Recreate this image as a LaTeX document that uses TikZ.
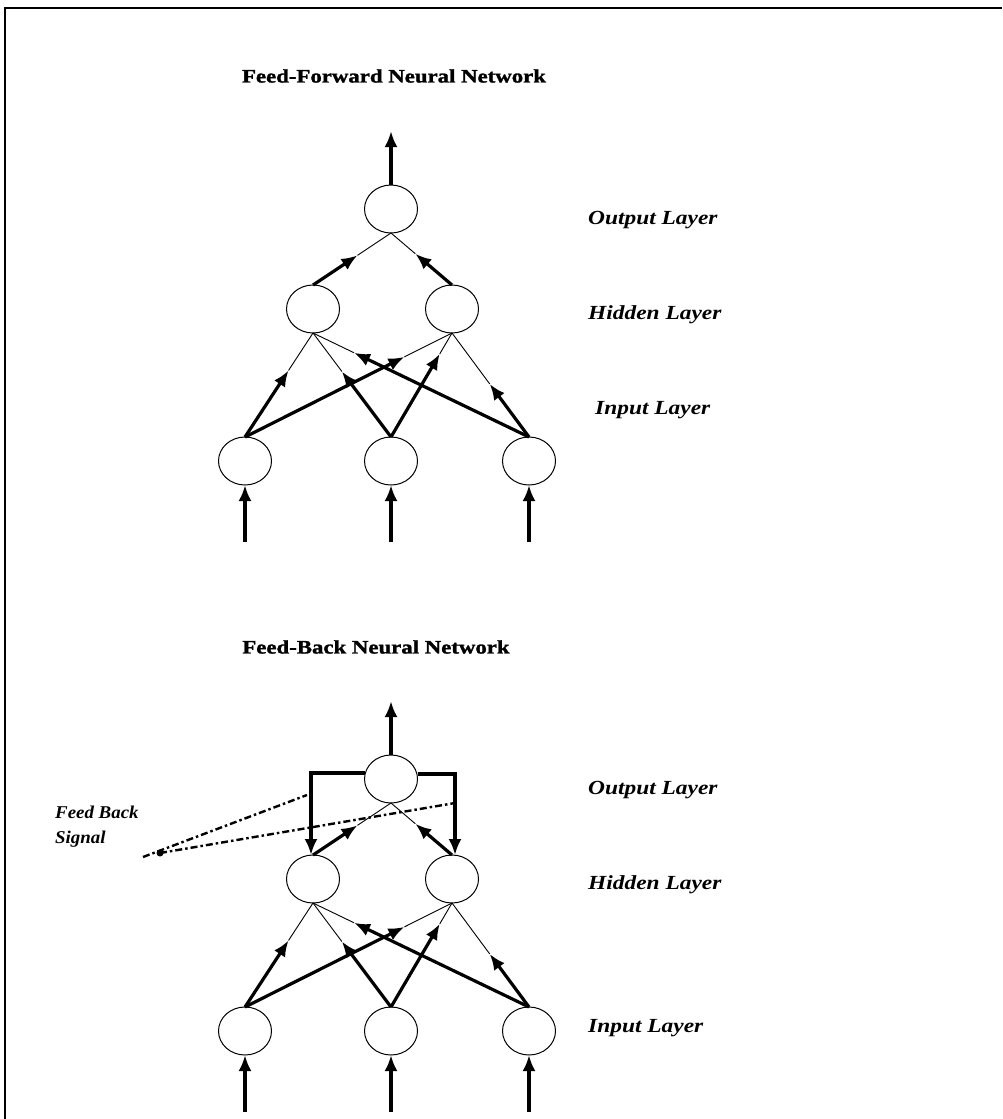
\documentclass[tikz,border=0pt]{standalone}
\usepackage{fontspec}
\setmainfont{Liberation Serif}
\newfontfamily\headfont[FakeStretch=1.2,FakeBold=1.5]{Liberation Serif}
\newfontfamily\layerfont[FakeStretch=1.17]{Liberation Serif}
\newfontfamily\notefont[FakeStretch=1.05]{Liberation Serif}
\usetikzlibrary{arrows.meta,shapes.geometric}

\tikzset{
  neuron/.style={ellipse, draw, line width=1pt, minimum width=53pt,
    minimum height=48pt, inner sep=0pt, outer sep=0pt},
  wire/.style={line width=0.9pt},
  strong/.style={line width=3.2pt},
  heavy/.style={line width=4pt},
  headarrow/.style={-{Latex[length=16pt,width=13pt]}},
  signal/.style={line width=2.4pt, dash pattern=on 7pt off 3pt on 2.5pt off 3pt},
  heading/.style={font=\headfont\bfseries\fontsize{19}{22}\selectfont, inner sep=0pt},
  layer/.style={font=\layerfont\bfseries\itshape\fontsize{20}{24}\selectfont,
    anchor=west, inner sep=0pt},
  note/.style={font=\notefont\bfseries\itshape\fontsize{18}{25}\selectfont,
    align=left, anchor=north west, inner sep=0pt},
}

% connector: heavy part with arrowhead from #1 up to fraction #3, thin remainder to #2
\newcommand{\feed}[3]{%
  \path (#1) -- (#2) coordinate[pos=#3] (mid);
  \draw[strong, headarrow] (#1) -- (mid);
  \draw[wire] (mid) -- (#2);}

% three-layer network; #1 name prefix, #2 vertical offset
\newcommand{\layers}[2]{%
  \node[neuron] (#1o)  at (391,209+#2) {};
  \node[neuron] (#1h1) at (313,309+#2) {};
  \node[neuron] (#1h2) at (452,309+#2) {};
  \node[neuron] (#1i1) at (245,461+#2) {};
  \node[neuron] (#1i2) at (391,461+#2) {};
  \node[neuron] (#1i3) at (529,461+#2) {};
  \coordinate (#1out) at (391,131+#2);
  \coordinate (#1s1) at (245,542+#2);
  \coordinate (#1s2) at (391,542+#2);
  \coordinate (#1s3) at (529,542+#2);
  \draw[heavy, headarrow] (#1o.north) -- (#1out);
  \draw[heavy, headarrow] (#1s1) -- (#1i1.south);
  \draw[heavy, headarrow] (#1s2) -- (#1i2.south);
  \draw[heavy, headarrow] (#1s3) -- (#1i3.south);
  \feed{#1i1.north}{#1h1.south}{0.64}
  \feed{#1i1.north}{#1h2.south}{0.77}
  \feed{#1i2.north}{#1h1.south}{0.63}
  \feed{#1i2.north}{#1h2.south}{0.80}
  \feed{#1i3.north}{#1h1.south}{0.81}
  \feed{#1i3.north}{#1h2.south}{0.51}
  \feed{#1h1.north}{#1o.south}{0.57}
  \feed{#1h2.north}{#1o.south}{0.60}}

\begin{document}
\begin{tikzpicture}[x=1pt, y=-1pt]
  \useasboundingbox (0,0) rectangle (1002,1119);
  \fill[white] (0,0) rectangle (1002,1119);
  % page frame
  \draw[line width=2.5pt] (5,1119) -- (5,8) -- (1002,8);

  % feed-forward network
  \node[heading] (t1) at (394,76) {Feed-Forward Neural Network};
  \layers{A}{0}
  \node[layer] (la1) at (588,220) {Output Layer};
  \node[layer] (la2) at (588,315) {Hidden Layer};
  \node[layer] (la3) at (595,410) {Input Layer};

  % feed-back network
  \node[heading] (t2) at (376,647) {Feed-Back Neural Network};
  \layers{B}{570}
  \node[layer] (lb1) at (588,790) {Output Layer};
  \node[layer] (lb2) at (588,885) {Hidden Layer};
  \node[layer] (lb3) at (588,1028) {Input Layer};

  % feedback paths from the output back to the hidden layer
  \draw[strong, headarrow] ([yshift=6pt]Bo.west) -| ([xshift=-2pt]Bh1.north);
  \draw[strong, headarrow] ([yshift=5pt]Bo.east) -| ([xshift=3pt]Bh2.north);

  % pointer lines to the feedback paths
  \coordinate (sigA) at (143,857);
  \coordinate (sigB) at (160,853);
  \coordinate (fbL) at (307,795);
  \coordinate (fbR) at (455,803);
  \draw[signal] (sigA) -- (fbL);
  \draw[signal] (sigB) -- (fbR);
  \fill (sigB) circle (3.5pt);
  \node[note] (fbs) at (55,806) {Feed Back\\Signal};
\end{tikzpicture}
\end{document}
